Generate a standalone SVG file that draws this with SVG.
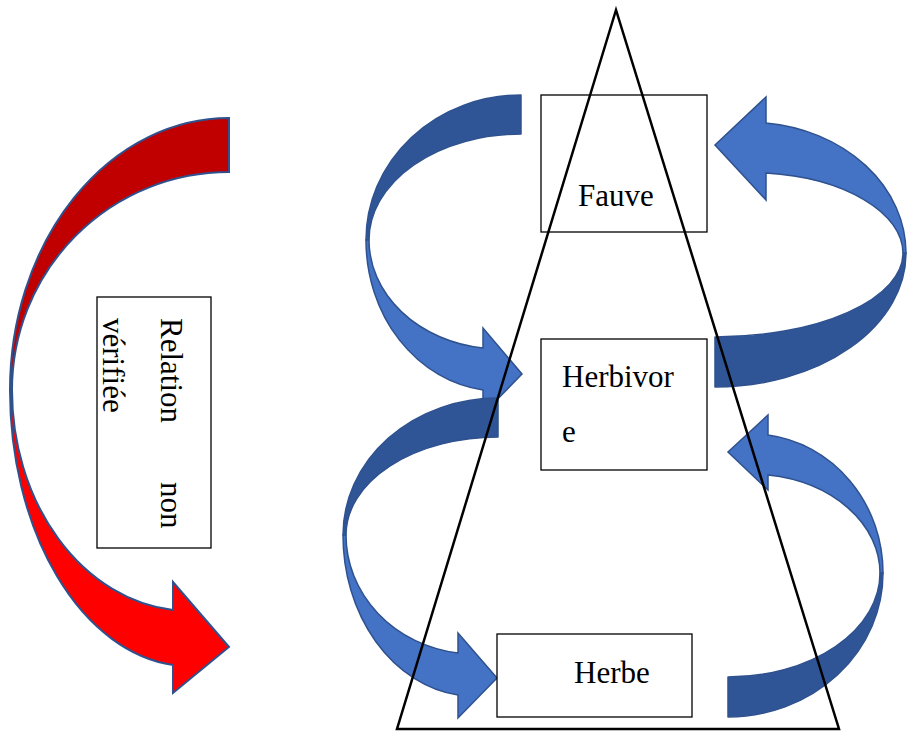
<svg xmlns="http://www.w3.org/2000/svg" width="908" height="731" viewBox="0 0 908 731">
<style>
.back{fill:#2F5597;stroke:#2F528F;stroke-width:1.5;stroke-linejoin:round}
.front{fill:#4472C4;stroke:#2F528F;stroke-width:1.5;stroke-linejoin:miter}
.rback{fill:#C00000;stroke:#2F528F;stroke-width:2}
.rfront{fill:#FF0000;stroke:#2F528F;stroke-width:2}
.box{fill:#FFFFFF;stroke:#000;stroke-width:1.3}
.lbl{font-family:"Liberation Serif","Times New Roman",serif;font-size:31px;fill:#000}
</style>
<rect width="908" height="731" fill="#FFFFFF"/>
<g id="connectors">
  <g id="red-arrow">
    <path class="rback" d="M229,118 A219,272 0 0 0 10,390 L12,390 A217,218 0 0 1 229,172 Z"/>
    <path class="rfront" d="M10,390 A180,276 0 0 0 173,665 L173,693 L229,647 L173,582 L173,610 A178,221 0 0 1 12,390 Z"/>
  </g>
  <g id="arrow-fauve-herbivore">
    <path class="back" d="M521,95 A155,145 0 0 0 366,240 L369,240 A152,106 0 0 1 521,134 Z"/>
    <path class="front" d="M366,240 A134,151 0 0 0 483,390 L483,414 L522,374 L483,328 L483,348 A131,109 0 0 1 369,240 Z"/>
  </g>
  <g id="arrow-herbivore-herbe">
    <path class="back" d="M498,398 A155,137 0 0 0 343,535 L346,535 A152,98 0 0 1 498,437 Z"/>
    <path class="front" d="M343,535 A132,161 0 0 0 458,695 L458,718 L497,678 L458,633 L458,653 A129,119 0 0 1 346,535 Z"/>
  </g>
  <g id="arrow-herbivore-fauve">
    <path class="back" d="M715,387 A191,134 0 0 0 906,253 L903,253 A188,84 0 0 1 715,337 Z"/>
    <path class="front" d="M906,253 A157,131 0 0 0 766,123 L766,97 L715,145 L766,200 L766,173 A154,81 0 0 1 903,253 Z"/>
  </g>
  <g id="arrow-herbe-herbivore">
    <path class="back" d="M728,717 A155,144 0 0 0 883,573 L880,573 A152,104 0 0 1 728,677 Z"/>
    <path class="front" d="M883,573 A132,139 0 0 0 768,435 L768,415 L728,452 L768,490 L768,475 A129,99 0 0 1 880,573 Z"/>
  </g>
</g>
<g id="node-relation">
  <rect class="box" x="97" y="297" width="114" height="251"/>
  <text class="lbl" font-size="30" transform="translate(161,318) rotate(90)">Relation</text>
  <text class="lbl" font-size="30" transform="translate(161,482) rotate(90)">non</text>
  <text class="lbl" font-size="30" transform="translate(103,318) rotate(90)">vérifiée</text>
</g>
<g id="node-fauve">
  <rect class="box" x="541" y="95" width="166" height="137"/>
</g>
<g id="node-herbivore">
  <rect class="box" x="541" y="339" width="166" height="131"/>
</g>
<g id="node-herbe">
  <rect class="box" x="497" y="634" width="195" height="83"/>
</g>
<g id="pyramid">
  <polygon points="616,10 397,729 839,729" fill="none" stroke="#000" stroke-width="2.5" stroke-linejoin="miter"/>
</g>
<g id="labels">
  <text class="lbl" x="578" y="206">Fauve</text>
  <text class="lbl" x="562" y="387">Herbivor</text>
  <text class="lbl" x="562" y="442">e</text>
  <text class="lbl" x="574" y="683">Herbe</text>
</g>
</svg>
